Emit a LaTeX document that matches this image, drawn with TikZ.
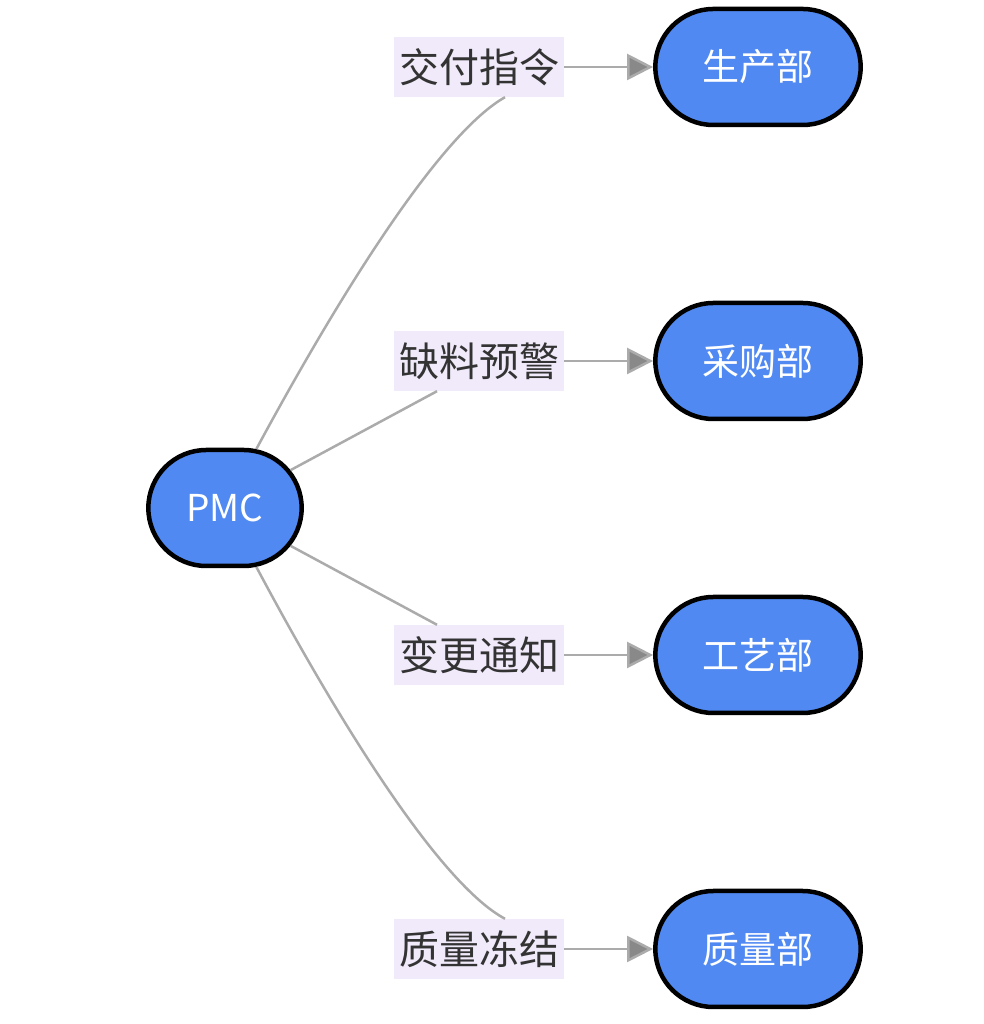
\documentclass[tikz,border=0pt]{standalone}
\usepackage{fontspec}
\setmainfont{Noto Sans CJK SC}
\usetikzlibrary{shapes.misc,arrows.meta,calc}
\definecolor{nodeblue}{HTML}{5089F2}
\definecolor{lblbg}{HTML}{F1EAFA}
\definecolor{edgegray}{HTML}{ABABAB}
\begin{document}
\begin{tikzpicture}[x=1pt,y=1pt,
  box/.style={rounded rectangle,draw=black,line width=4.5pt,fill=nodeblue,text=white,minimum height=116pt,font=\fontsize{37}{40}\selectfont},
  lbl/.style={fill=lblbg,minimum width=170pt,minimum height=60pt,inner sep=0pt,text=black!80,font=\fontsize{40}{42}\selectfont},
  edge/.style={draw=edgegray,line width=2.5pt},
  arr/.style={edge,-{Triangle[length=26pt,width=26pt,fill=edgegray!80!black]}}]
\useasboundingbox (0,0) rectangle (983,1024);
\node[box,minimum width=160pt] (pmc) at (225,516) {PMC};
\node[box,minimum width=212pt] (n1) at (758,957) {生产部};
\node[box,minimum width=212pt] (n2) at (758,663) {采购部};
\node[box,minimum width=212pt] (n3) at (758,369) {工艺部};
\node[box,minimum width=212pt] (n4) at (758,75) {质量部};
\node[lbl] (l1) at (479,957) {交付指令};
\node[lbl] (l2) at (479,663) {缺料预警};
\node[lbl] (l3) at (479,369) {变更通知};
\node[lbl] (l4) at (479,75) {质量冻结};
\draw[edge] (pmc.62) .. controls (340,730) and (440,890) .. ($(l1.south)+(26,0)$);
\draw[edge] (pmc.30) -- ($(l2.south)+(-42,0)$);
\draw[edge] (pmc.-30) -- ($(l3.north)+(-42,0)$);
\draw[edge] (pmc.-62) .. controls (340,300) and (440,140) .. ($(l4.north)+(26,0)$);
\foreach \i in {1,2,3,4}{\draw[arr] (l\i.east) -- (n\i.west);}
\end{tikzpicture}
\end{document}
